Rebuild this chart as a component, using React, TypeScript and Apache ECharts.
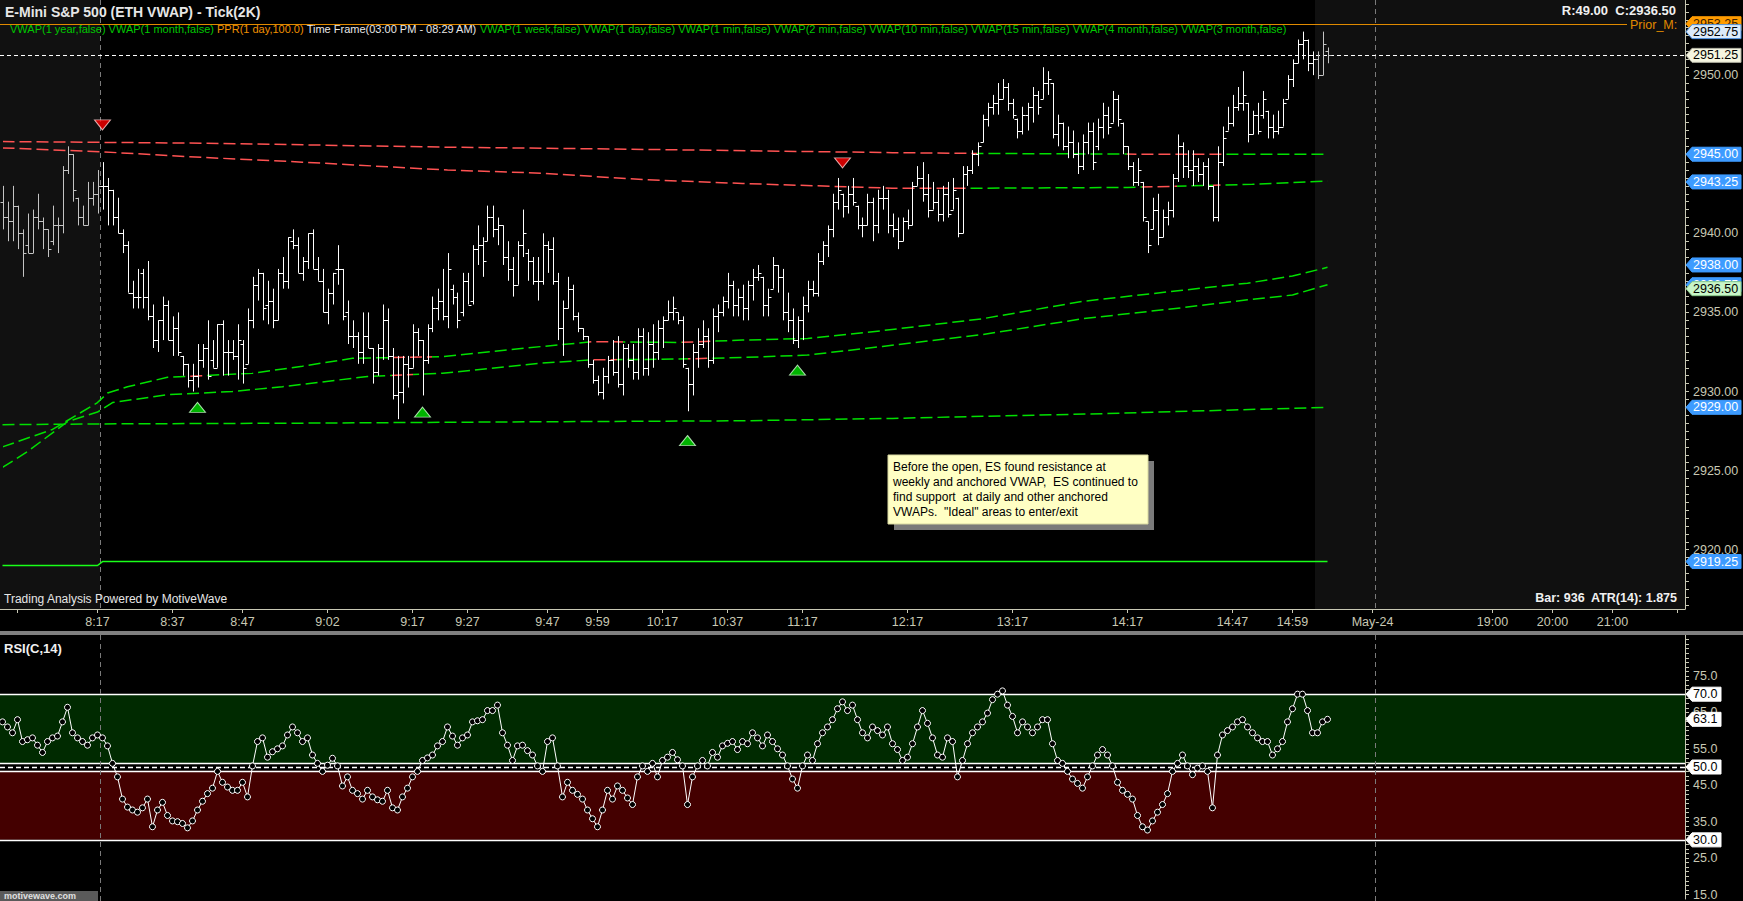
import React, { useEffect, useRef } from "react";
import * as echarts from "echarts";

const W = 1743;
const H = 901;
const FONT = '"Liberation Sans", Arial, sans-serif';
const PLOT_W = 1685;
const MAIN_H = 609;
const RSI_TOP = 635;
const RSI_H = 266;

// ---------- time axis ----------
const slotCount = 337;
const timeTickIndex = [19, 34, 48, 65, 82, 93, 109, 119, 132, 145, 160, 181, 202, 225, 246, 258, 274, 298, 310, 322];
const timeTickLabels = ["8:17", "8:37", "8:47", "9:02", "9:17", "9:27", "9:47", "9:59", "10:17", "10:37", "11:17", "12:17", "13:17", "14:17", "14:47", "14:59", "May-24", "19:00", "20:00", "21:00"];
const blankTickIndex = [3, 335];

// ---------- price bars [open, high, low, close] ----------
const bars: number[][] = [
  [2942, 2943, 2940.25, 2941], [2941, 2942, 2939.5, 2940.75], [2940.75, 2943, 2939.5, 2941.75], [2941.75, 2941.75, 2939, 2940],
  [2940, 2940.25, 2937.25, 2938.75], [2939.25, 2941.25, 2938.75, 2938.75], [2938.75, 2941.5, 2938.75, 2941], [2941, 2942.5, 2940.25, 2940.75],
  [2940.75, 2941, 2939, 2940.25], [2940.25, 2940.25, 2938.5, 2939], [2939.5, 2941.75, 2939.25, 2940.5], [2940.5, 2941, 2938.75, 2940.5],
  [2940.5, 2944.25, 2940, 2944], [2944, 2945.5, 2943.75, 2945], [2945, 2945, 2942, 2942.75], [2942.25, 2942.25, 2940.5, 2941],
  [2941, 2941.75, 2940.5, 2940.5], [2940.5, 2943.25, 2940.5, 2942.25], [2942.25, 2943.25, 2941.75, 2942.5], [2942.5, 2944, 2941.25, 2943],
  [2943, 2944.5, 2941.5, 2943], [2943, 2943.5, 2940.5, 2942.75], [2942.75, 2942.75, 2940.5, 2941], [2941, 2942.25, 2940, 2940],
  [2940, 2940.25, 2938.75, 2939.25], [2939.25, 2939.5, 2936.25, 2936.25], [2936.25, 2937, 2935.25, 2936], [2936, 2937.75, 2935.25, 2936],
  [2937.5, 2937.75, 2935.25, 2936], [2936, 2938.25, 2934.5, 2934.75], [2934.75, 2935.5, 2932.75, 2933.25], [2933.25, 2934.5, 2932.5, 2934.5],
  [2934.5, 2936, 2933.25, 2935.5], [2935.5, 2935.75, 2933.25, 2933.25], [2933.25, 2934.75, 2932.25, 2934], [2934, 2935, 2932.25, 2932.5],
  [2932.25, 2932.25, 2931, 2931.75], [2931.75, 2931.75, 2930.25, 2930.75], [2930.75, 2931.75, 2930, 2931], [2931, 2933, 2930.25, 2932],
  [2932, 2933, 2931.5, 2932.75], [2932.75, 2934.5, 2930.75, 2931], [2932, 2933.25, 2931.5, 2931.5], [2931.5, 2934.25, 2931.5, 2934.25],
  [2934.25, 2934.5, 2931, 2932.5], [2932.5, 2933.25, 2931, 2932.5], [2932.5, 2933.25, 2932, 2932.25], [2932.25, 2934.25, 2930.75, 2933.25],
  [2933, 2933.25, 2930.5, 2931.5], [2931.75, 2935.25, 2931.75, 2934.5], [2934.5, 2937.25, 2934, 2936.75], [2936.75, 2937.75, 2935.75, 2937.5],
  [2937.5, 2937.5, 2934.5, 2935.25], [2935.5, 2937, 2934.25, 2935.75], [2935.75, 2936.5, 2934, 2934.5], [2934.5, 2937.75, 2934.5, 2937.5],
  [2937.5, 2938.5, 2936.5, 2937], [2937, 2939.75, 2936.5, 2939.75], [2939.5, 2940.25, 2939, 2939.25], [2939.25, 2939.75, 2937.5, 2937.5],
  [2937.5, 2938.5, 2937, 2938.25], [2938.25, 2940, 2937.75, 2940], [2940, 2940.25, 2937.75, 2937.75], [2937.75, 2938.5, 2937, 2937],
  [2937, 2937.75, 2935, 2935], [2935, 2936.5, 2934.25, 2936.25], [2936.25, 2937.5, 2935.5, 2937.5], [2937.75, 2939.25, 2936.75, 2937.75],
  [2937.75, 2937.75, 2934.5, 2934.75], [2935, 2935.75, 2933, 2933.5], [2933.5, 2934.5, 2932.75, 2933.5], [2933.5, 2933.75, 2931.75, 2932.5],
  [2932.5, 2935, 2931.75, 2933.5], [2933.5, 2935, 2932.75, 2932.75], [2932.75, 2932.75, 2930.5, 2931.25], [2931.25, 2933, 2931, 2932.75],
  [2932.75, 2935.5, 2932, 2934.5], [2934.5, 2935.25, 2932, 2932.25], [2932.25, 2932.75, 2929.5, 2929.75], [2929.75, 2932.25, 2928.25, 2930],
  [2930, 2932.25, 2929.25, 2931.75], [2931.75, 2932.25, 2930.25, 2931.5], [2931.5, 2934.25, 2931.5, 2933.75], [2933.75, 2934, 2932.25, 2933.25],
  [2933.25, 2933.25, 2929.75, 2932], [2932, 2934.25, 2931.75, 2934], [2934, 2936, 2933.75, 2935.25], [2935.25, 2936.5, 2934.5, 2935.75],
  [2935.75, 2937.75, 2934.5, 2934.75], [2934.75, 2938.75, 2934, 2937.75], [2936.5, 2936.75, 2935.5, 2936], [2936, 2936.25, 2934, 2934.5],
  [2935, 2937.5, 2934.75, 2937], [2937, 2937.5, 2935.5, 2935.5], [2935.75, 2939.25, 2935.5, 2939], [2939, 2940.5, 2938, 2939.25],
  [2939.25, 2939.75, 2937.25, 2938.25], [2939.5, 2941.75, 2939.5, 2941], [2941, 2941.75, 2939.75, 2940.25], [2940.25, 2941, 2939.25, 2940.5],
  [2940.5, 2940.5, 2938, 2938.5], [2938.5, 2939.5, 2937, 2937.75], [2937.75, 2938.5, 2936, 2936.75], [2936.75, 2939.5, 2936.75, 2939.25],
  [2939.25, 2941.5, 2938.5, 2940], [2938.75, 2939, 2937, 2938.25], [2938.25, 2938.5, 2936.75, 2937], [2937, 2938.5, 2935.75, 2937],
  [2937, 2940, 2936.75, 2939.25], [2939.25, 2939.5, 2937.5, 2939], [2939, 2939.75, 2936.75, 2937], [2937, 2937.5, 2933.25, 2934],
  [2934, 2935.75, 2932.25, 2935.25], [2935.25, 2937.25, 2935.25, 2936.5], [2936.5, 2936.75, 2934.5, 2934.75], [2934.75, 2935, 2933.75, 2934],
  [2934, 2934, 2933.25, 2933.5], [2933.5, 2933.5, 2931.5, 2931.75], [2931.75, 2932, 2930.5, 2930.75], [2930.75, 2931, 2929.75, 2930],
  [2930, 2931.5, 2929.5, 2931], [2931, 2932.25, 2930.5, 2932], [2932, 2933.25, 2931, 2931.25], [2931.25, 2933.5, 2930.25, 2930.5],
  [2930.5, 2933, 2929.75, 2932.75], [2932.75, 2933, 2931.5, 2932], [2932, 2933, 2930.75, 2931.25], [2931.25, 2934, 2930.75, 2933.5],
  [2933.5, 2934, 2931, 2931.5], [2931.5, 2933.75, 2931, 2933], [2933, 2934.25, 2931.5, 2932.5], [2932.5, 2934.5, 2932, 2934],
  [2934, 2934.75, 2932.75, 2934.5], [2934.5, 2935.75, 2934.5, 2935], [2935, 2936, 2934.5, 2935.25], [2935, 2935, 2934.25, 2934.5],
  [2934.5, 2934.75, 2931.5, 2931.75], [2931.5, 2931.5, 2928.75, 2930.5], [2930.5, 2933, 2929.75, 2932.5], [2932.5, 2934, 2931.5, 2933],
  [2933, 2934.5, 2932.75, 2933.5], [2933.5, 2934, 2931.5, 2932], [2932, 2935.25, 2931.75, 2934.75], [2934.75, 2935.5, 2933.75, 2935],
  [2935, 2936, 2934.75, 2935.75], [2935.75, 2937.5, 2935.25, 2936.75], [2936.75, 2937, 2934.75, 2935.5], [2935.5, 2936.5, 2934.75, 2936],
  [2936, 2936.75, 2934.5, 2935.25], [2935.25, 2937, 2934.5, 2936.75], [2936.75, 2937.75, 2935.75, 2937.25], [2937.25, 2938, 2937, 2937.5],
  [2937.25, 2937.25, 2934.75, 2935.5], [2935.5, 2936.5, 2934.75, 2936], [2936.5, 2938.5, 2936.5, 2938], [2938, 2938, 2936.25, 2937.25],
  [2937.25, 2937.75, 2934.5, 2935], [2935, 2936.25, 2933.75, 2934.5], [2934.5, 2935.25, 2933, 2933.25], [2933.25, 2934.75, 2932.75, 2934.5],
  [2934.5, 2936, 2933.25, 2935.5], [2935.5, 2937, 2935, 2936.5], [2936.5, 2937, 2936, 2936.25], [2936.25, 2938.75, 2936, 2938.25],
  [2938.25, 2939.5, 2938, 2939.25], [2939.25, 2940.5, 2938.5, 2940.25], [2940.25, 2942.5, 2939.75, 2942], [2942, 2943.5, 2941.5, 2942.75],
  [2942.5, 2942.5, 2941, 2941.75], [2941.75, 2943, 2941.25, 2942.5], [2942.5, 2943.5, 2941.75, 2942], [2941.75, 2941.75, 2940.25, 2940.5],
  [2940.5, 2941, 2939.75, 2940.5], [2940.5, 2942.5, 2940.5, 2942], [2942, 2942.25, 2939.5, 2940.5], [2940.5, 2942.75, 2940, 2942.25],
  [2942.25, 2943, 2941.5, 2942.25], [2942.25, 2942.75, 2940, 2940.5], [2940.5, 2941.25, 2939.75, 2940.25], [2940.25, 2941, 2939, 2939.5],
  [2939.5, 2941, 2939.5, 2940.75], [2940.75, 2941.5, 2940.25, 2940.5], [2940.5, 2943.25, 2940.5, 2943], [2943, 2944.25, 2943, 2943.5],
  [2943.5, 2944.5, 2942, 2942.5], [2942.5, 2943.75, 2941, 2941.5], [2941.5, 2943.25, 2941.5, 2942], [2942, 2942.75, 2940.75, 2941.25],
  [2941.25, 2943, 2940.75, 2942.5], [2942.5, 2943.25, 2941, 2941.25], [2941.5, 2943.5, 2941.5, 2942.75], [2942.25, 2942.25, 2939.75, 2940],
  [2940, 2944.25, 2940, 2943.75], [2943.75, 2944.25, 2943, 2944], [2944, 2945.25, 2943.75, 2945], [2945, 2945.75, 2944.25, 2945.5],
  [2945.75, 2947.5, 2945.75, 2947.25], [2947.25, 2948.25, 2946.75, 2948], [2948, 2948.75, 2947.5, 2948.25], [2948.25, 2949.5, 2947.5, 2948.5],
  [2948.5, 2949.75, 2948.5, 2949.25], [2949.25, 2949.5, 2947.75, 2948.25], [2948.25, 2948.5, 2947.25, 2947.5], [2947.25, 2947.25, 2946, 2946.5],
  [2946.5, 2948, 2946.25, 2947.5], [2947.5, 2948.25, 2946.5, 2948], [2948, 2949.25, 2947, 2948.75], [2948.75, 2949, 2947.5, 2948],
  [2948.5, 2950.5, 2948.5, 2949.5], [2949.5, 2950.25, 2948.75, 2949.75], [2949.5, 2949.5, 2946, 2946.25], [2946.25, 2947.5, 2945.5, 2947],
  [2947, 2947, 2945.25, 2945.5], [2945.5, 2946.75, 2944.75, 2945.75], [2945.75, 2946.5, 2944.75, 2945], [2945, 2945.75, 2943.75, 2944.25],
  [2944.25, 2946.25, 2944, 2945.75], [2945.75, 2947, 2945, 2946.5], [2946.5, 2947, 2944, 2944.5], [2945.5, 2947.25, 2945.25, 2946.75],
  [2946.75, 2948.25, 2946, 2947.5], [2947.5, 2948, 2946.25, 2946.75], [2947, 2949, 2947, 2948.5], [2948.5, 2948.75, 2946.75, 2947.25],
  [2947, 2947, 2945, 2945.5], [2945.5, 2945.5, 2944, 2944.25], [2944.25, 2944.5, 2943, 2943.25], [2943.25, 2944.75, 2943, 2944],
  [2943.25, 2943.25, 2940.75, 2941], [2940.75, 2940.75, 2938.75, 2939.25], [2940.25, 2942.25, 2940.25, 2941.5], [2941.5, 2942.5, 2939.25, 2939.75],
  [2939.75, 2941.5, 2939.75, 2941], [2941, 2942, 2940.5, 2941.5], [2941.5, 2943.75, 2941, 2943.5], [2943.5, 2946.25, 2943.25, 2945.5],
  [2945.5, 2945.75, 2943.5, 2944.25], [2944.25, 2945.25, 2943.5, 2944], [2944, 2945.25, 2943, 2944.25], [2944.25, 2944.75, 2943.25, 2943.75],
  [2943.75, 2944.5, 2943, 2944.25], [2944.25, 2944.75, 2942.75, 2943], [2943, 2943, 2940.75, 2941], [2941, 2945.5, 2940.75, 2944.5],
  [2944.5, 2946.75, 2944.25, 2946], [2946.5, 2948, 2946.5, 2947], [2947, 2948.75, 2946.75, 2948], [2948, 2949.25, 2947.75, 2948.25],
  [2948.25, 2950.25, 2947.75, 2948.75], [2948.25, 2948.25, 2945.75, 2946.25], [2946.25, 2947.75, 2946.25, 2947.5], [2947.5, 2948.25, 2946.25, 2946.5],
  [2947.5, 2949, 2947.25, 2948.5], [2947.75, 2947.75, 2946, 2946.75], [2946.75, 2947.5, 2946, 2946.5], [2946.5, 2947.75, 2946.25, 2946.75],
  [2946.75, 2948.5, 2946.75, 2948.25], [2948.5, 2950, 2948.5, 2949.75], [2949.75, 2951, 2949.25, 2950.75], [2950.75, 2952.25, 2950.75, 2952],
  [2952, 2952.75, 2951, 2952.25], [2952.25, 2952.25, 2950.25, 2950.75], [2950.75, 2951.5, 2950, 2951], [2951, 2951.5, 2949.75, 2950],
  [2950, 2952.75, 2950, 2952], [2951.5, 2951.75, 2950.75, 2951.25],
];

// ---------- RSI(C,14) per bar ----------
const rsiValues = [
  62.4, 61, 59.4, 63, 57, 57.5, 58, 56, 54, 57,
  58, 58.5, 62.4, 66.4, 59.4, 58, 57, 56, 58, 58.8,
  58, 55.8, 51, 47.3, 41.2, 39, 38.2, 37.6, 38.8, 41.2,
  33.6, 38.2, 40.3, 36.7, 35.2, 35, 34.5, 33.3, 35.2, 38.2,
  40.6, 42.7, 44.2, 48.8, 45.8, 44.5, 43.6, 43.6, 45.8, 41.8,
  50.3, 57, 58, 52.7, 54.2, 55, 55.8, 58.8, 61, 59.4,
  57, 58, 53.3, 51, 48.8, 50.5, 52.4, 50.3, 44.8, 47.3,
  43.6, 42.7, 41.2, 43.6, 41.8, 41, 40.6, 43.6, 38.8, 38.2,
  41.8, 44.2, 47.3, 48.8, 51.8, 52.5, 53.3, 55.8, 57, 61,
  58.5, 56, 58, 58.8, 62.4, 62.7, 63, 65.5, 65.5, 67,
  59.4, 56, 51.8, 55.8, 56, 54.5, 53.3, 50.3, 48.8, 57,
  58, 50.3, 41.8, 45.8, 43.6, 42.5, 41.2, 38.2, 35.8, 33.6,
  38.2, 43.6, 41.2, 44.8, 43.6, 41.5, 39.7, 47.3, 50.3, 48.8,
  51, 47.3, 51.8, 52.7, 54, 52, 50.3, 39.7, 47.3, 50.3,
  51.8, 50.3, 54, 52.7, 55.8, 56.5, 57, 54.8, 57, 56.4,
  59.4, 58, 55.8, 58.8, 57, 55, 53.3, 50.3, 46.7, 44.2,
  50.3, 53.3, 51.8, 56.4, 59.4, 61, 63, 66, 67.9, 65.5,
  67, 63, 59.4, 58, 61, 60, 58.8, 61, 56.4, 54.8,
  51.8, 52.7, 56.4, 61, 65.5, 62, 58, 53.3, 52.7, 58,
  57, 47.3, 51.8, 56.4, 59.4, 61, 62.4, 64.8, 68.5, 70,
  70.9, 67, 63.9, 59.4, 62.4, 61, 59.4, 61, 63, 63,
  56.4, 51.8, 51, 48.8, 46.7, 45.5, 44.2, 47.3, 50.3, 53.3,
  54.8, 53.3, 50.3, 45.8, 43.6, 42.5, 41.2, 36.7, 33.6, 32.7,
  35.2, 37.6, 39.7, 42.7, 48.8, 51, 53.3, 50.3, 47.9, 49.7,
  50.3, 48.8, 38.8, 53.3, 58.8, 60, 61, 62.4, 63, 61,
  59.4, 58, 57, 57, 53.3, 55, 57, 62.4, 66, 70,
  70, 65.5, 59.4, 59.4, 62.4, 63.1,
];

// ---------- VWAP lines (bar index, price) ----------
const vwapAIdx = [0, 40, 88, 130, 178, 195, 230, 265];
const vwapAVal = [2945.8, 2945.7, 2945.45, 2945.3, 2945.1, 2945.05, 2945.0, 2945.0];
const vwapASegments: [number, number, string][] = [[0, 195, "r"], [195, 225, "g"], [225, 244, "r"], [244, 400, "g"]];

const vwapBIdx = [0, 20, 40, 60, 89, 108, 128, 148, 178, 193, 225, 250, 265];
const vwapBVal = [2945.4, 2945.15, 2944.8, 2944.5, 2944.0, 2943.8, 2943.4, 2943.15, 2942.85, 2942.85, 2942.9, 2943.1, 2943.3];
const vwapBSegments: [number, number, string][] = [[0, 193, "r"], [193, 228, "g"], [228, 235, "r"], [235, 242, "g"], [242, 244, "r"], [244, 400, "g"]];

const vwapCIdx = [0, 10, 19, 21, 25, 33, 50, 60, 70, 88, 108, 118, 135, 148, 161, 176, 196, 216, 236, 249, 258, 265];
const vwapCVal = [2926.5, 2927.6, 2929.3, 2929.9, 2930.3, 2930.9, 2931.15, 2931.6, 2932.1, 2932.2, 2932.85, 2933.15, 2933.1, 2933.25, 2933.35, 2933.85, 2934.6, 2935.7, 2936.4, 2936.85, 2937.3, 2937.85];
const vwapCSegments: [number, number, string][] = [[0, 37, "g"], [37, 40, "r"], [40, 78, "g"], [78, 86, "r"], [86, 117, "g"], [117, 124, "r"], [124, 136, "g"], [136, 142, "r"], [142, 400, "g"]];

const vwapDIdx = [0, 5, 13, 19, 22, 33, 46, 56, 73, 88, 108, 118, 135, 148, 161, 176, 196, 216, 236, 249, 258, 265];
const vwapDVal = [2925.2, 2926.2, 2928.1, 2928.7, 2929.3, 2929.8, 2930.0, 2930.3, 2930.95, 2931.15, 2931.8, 2932.0, 2932.05, 2932.15, 2932.3, 2932.85, 2933.6, 2934.6, 2935.3, 2935.8, 2936.1, 2936.75];
const vwapDSegments: [number, number, string][] = [[0, 78, "g"], [78, 82, "r"], [82, 117, "g"], [117, 123, "r"], [123, 137, "g"], [137, 141, "r"], [141, 400, "g"]];

const vwapEIdx = [0, 19, 60, 115, 148, 178, 220, 265];
const vwapEVal = [2927.9, 2927.95, 2928.0, 2928.1, 2928.15, 2928.3, 2928.6, 2929.0];

const vwapFIdx = [0, 19, 20, 265];
const vwapFVal = [2919.0, 2919.0, 2919.25, 2919.25];

// ---------- signals ----------
const signalUpIdx = [39, 84, 137, 159];
const signalUpVal = [2929.0, 2928.7, 2926.9, 2931.35];
const signalDownIdx = [20, 168];
const signalDownVal = [2946.85, 2944.45];

// ---------- levels & axis tags ----------
const priorMonthLevel = 2953.25;
const lastPrice = 2951.25;
const priceAxisLabels = [2920, 2925, 2930, 2935, 2940, 2945, 2950];
const rsiAxisLabels = [15, 25, 35, 45, 55, 65, 75];
const priceTagValues = [2953.25, 2952.75, 2951.25, 2945.0, 2943.25, 2938.0, 2936.75, 2936.5, 2929.0, 2919.25];
const priceTagKinds = ["orange", "sky", "cream", "blue", "blue", "blue", "blue", "mint", "blue", "blue"];
const rsiTagValues = [70, 63.1, 50, 30];
const rsiUpper = 70;
const rsiUpperMid = 51;
const rsiMid = 50;
const rsiLowerMid = 49;
const rsiLower = 30;

const legendItems: [string, string][] = [
  ["VWAP(1 year,false)", "g"], ["VWAP(1 month,false)", "g"], ["PPR(1 day,100.0)", "o"],
  ["Time Frame(03:00 PM - 08:29 AM)", "w"], ["VWAP(1 week,false)", "g"], ["VWAP(1 day,false)", "g"],
  ["VWAP(1 min,false)", "g"], ["VWAP(2 min,false)", "g"], ["VWAP(10 min,false)", "g"],
  ["VWAP(15 min,false)", "g"], ["VWAP(4 month,false)", "g"], ["VWAP(3 month,false)", "g"],
];
const noteLines = [
  "Before the open, ES found resistance at",
  "weekly and anchored VWAP,  ES continued to",
  "find support  at daily and other anchored",
  "VWAPs.  \"Ideal\" areas to enter/exit",
];

const RED = "#ff5252";
const GREEN = "#00e000";
const AXIS_COLOR = "#c8c8b4";

const categories: string[] = Array.from({ length: slotCount }, () => "");
blankTickIndex.forEach((i) => (categories[i] = " "));
timeTickIndex.forEach((i, k) => (categories[i] = timeTickLabels[k]));

function stepList(a: number, b: number, s: number) {
  const out: number[] = [];
  for (let v = a; v <= b + 1e-9; v += s) out.push(Math.round(v * 100) / 100);
  return out;
}

function pieces(segs: [number, number, string][]) {
  return segs.map(([a, b, c]) => ({ gte: a, lt: b, color: c === "r" ? RED : GREEN }));
}

function dashed(idx: number[], vals: number[], z = 3) {
  return {
    type: "line",
    xAxisIndex: 0,
    yAxisIndex: 0,
    data: idx.map((x, k) => [x, vals[k]]),
    symbol: "none",
    showSymbol: false,
    silent: true,
    z,
    lineStyle: { width: 1.5, type: [12, 5] },
  };
}

function buildOption(): any {
  const barSeries = {
    type: "custom",
    xAxisIndex: 0,
    yAxisIndex: 0,
    z: 4,
    silent: true,
    dimensions: ["i", "o", "h", "l", "c"],
    encode: { x: 0, y: [1, 2, 3, 4] },
    data: bars.map((b, i) => [i, b[0], b[1], b[2], b[3]]),
    renderItem: (params: any, api: any) => {
      const i = api.value(0);
      const o = api.coord([i, api.value(1)]);
      const h = api.coord([i, api.value(2)]);
      const l = api.coord([i, api.value(3)]);
      const c = api.coord([i, api.value(4)]);
      const x = Math.round(h[0]) + 0.5;
      const color = i < 20 || i > 262 ? "#c4c4c4" : "#ffffff";
      const style = { stroke: color, lineWidth: 1 };
      const oy = Math.round(o[1]) + 0.5;
      const cy = Math.round(c[1]) + 0.5;
      return {
        type: "group",
        children: [
          { type: "line", shape: { x1: x, y1: h[1], x2: x, y2: l[1] }, style },
          { type: "line", shape: { x1: x - 3, y1: oy, x2: x, y2: oy }, style },
          { type: "line", shape: { x1: x, y1: cy, x2: x + 3, y2: cy }, style },
        ],
      };
    },
  };

  return {
    animation: false,
    backgroundColor: "#000",
    textStyle: { fontFamily: FONT },
    grid: [
      { left: 0, top: 0, width: PLOT_W, height: MAIN_H },
      { left: 0, top: RSI_TOP, width: PLOT_W, height: RSI_H },
    ],
    xAxis: [
      {
        type: "category",
        gridIndex: 0,
        data: categories,
        boundaryGap: true,
        axisLine: { show: true, lineStyle: { color: AXIS_COLOR, width: 1 } },
        axisTick: {
          show: true,
          alignWithLabel: true,
          interval: (i: number, v: string) => v !== "",
          length: 4,
          lineStyle: { color: AXIS_COLOR },
        },
        axisLabel: {
          interval: (i: number, v: string) => v.trim() !== "",
          color: AXIS_COLOR,
          fontSize: 12.5,
          fontFamily: FONT,
          margin: 6,
        },
        splitLine: { show: false },
      },
      {
        type: "category",
        gridIndex: 1,
        data: categories,
        boundaryGap: true,
        axisLine: { show: false },
        axisTick: { show: false },
        axisLabel: { show: false },
        splitLine: { show: false },
      },
    ],
    yAxis: [
      {
        type: "value",
        gridIndex: 0,
        position: "right",
        min: 2916.25,
        max: 2954.75,
        axisLine: { show: true, lineStyle: { color: AXIS_COLOR } },
        axisTick: { show: true, customValues: stepList(2916.5, 2954.5, 0.5), length: 4, lineStyle: { color: AXIS_COLOR } },
        axisLabel: {
          customValues: priceAxisLabels,
          formatter: (v: number) => Number(v).toFixed(2),
          color: AXIS_COLOR,
          fontSize: 12.5,
          fontFamily: FONT,
          margin: 8,
        },
        splitLine: { show: false },
      },
      {
        type: "value",
        gridIndex: 1,
        position: "right",
        min: 13.75,
        max: 86.25,
        axisLine: { show: true, lineStyle: { color: AXIS_COLOR } },
        axisTick: { show: true, customValues: stepList(15, 85, 1.25), length: 4, lineStyle: { color: AXIS_COLOR } },
        axisLabel: {
          customValues: rsiAxisLabels,
          formatter: (v: number) => Number(v).toFixed(1),
          color: AXIS_COLOR,
          fontSize: 12.5,
          fontFamily: FONT,
          margin: 8,
        },
        splitLine: { show: false },
      },
    ],
    visualMap: [
      { type: "piecewise", show: false, seriesIndex: 1, dimension: 0, pieces: pieces(vwapASegments) },
      { type: "piecewise", show: false, seriesIndex: 2, dimension: 0, pieces: pieces(vwapBSegments) },
      { type: "piecewise", show: false, seriesIndex: 3, dimension: 0, pieces: pieces(vwapCSegments) },
      { type: "piecewise", show: false, seriesIndex: 4, dimension: 0, pieces: pieces(vwapDSegments) },
    ],
    series: [
      barSeries,
      dashed(vwapAIdx, vwapAVal),
      dashed(vwapBIdx, vwapBVal),
      dashed(vwapCIdx, vwapCVal),
      dashed(vwapDIdx, vwapDVal),
      { ...dashed(vwapEIdx, vwapEVal), lineStyle: { width: 1.5, type: [12, 5], color: GREEN } },
      {
        type: "line",
        xAxisIndex: 0,
        yAxisIndex: 0,
        data: vwapFIdx.map((x, k) => [x, vwapFVal[k]]),
        symbol: "none",
        silent: true,
        z: 3,
        lineStyle: { width: 1.5, color: "#19ff19" },
      },
      {
        type: "scatter",
        xAxisIndex: 0,
        yAxisIndex: 0,
        data: signalUpIdx.map((x, k) => [x, signalUpVal[k]]),
        symbol: "triangle",
        symbolSize: [16, 10],
        silent: true,
        z: 6,
        itemStyle: { color: "#00e000", borderColor: "#d0ffd0", borderWidth: 1 },
      },
      {
        type: "scatter",
        xAxisIndex: 0,
        yAxisIndex: 0,
        data: signalDownIdx.map((x, k) => [x, signalDownVal[k]]),
        symbol: "triangle",
        symbolRotate: 180,
        symbolSize: [16, 10],
        silent: true,
        z: 6,
        itemStyle: { color: "#ff0000", borderColor: "#ffd0d0", borderWidth: 1 },
      },
      {
        type: "line",
        xAxisIndex: 1,
        yAxisIndex: 1,
        data: rsiValues,
        symbol: "circle",
        symbolSize: 6,
        showAllSymbol: true,
        silent: true,
        z: 5,
        lineStyle: { color: "#ffffff", width: 1 },
        itemStyle: { color: "#000000", borderColor: "#ffffff", borderWidth: 1 },
      },
    ],
  };
}

const TAG_STYLES: Record<string, { fill: string; text: string; stroke: string }> = {
  orange: { fill: "#ff9c00", text: "#402000", stroke: "#ff9c00" },
  sky: { fill: "#dcebfa", text: "#000000", stroke: "#4a90e2" },
  cream: { fill: "#f5f5e0", text: "#000000", stroke: "#b0b0a0" },
  blue: { fill: "#3d9bff", text: "#ffffff", stroke: "#3d9bff" },
  mint: { fill: "#c8f5c8", text: "#000000", stroke: "#88c888" },
};

function buildGraphics(chart: any) {
  const px = (i: number) => chart.convertToPixel({ xAxisIndex: 0 }, i) as number;
  const py = (p: number) => chart.convertToPixel({ yAxisIndex: 0 }, p) as number;
  const ry = (v: number) => chart.convertToPixel({ yAxisIndex: 1 }, v) as number;
  const g: any[] = [];
  const txt = (x: number, y: number, text: string, font: string, fill: string, align = "left", z = 100) => ({
    type: "text",
    x,
    y,
    z,
    silent: true,
    style: { text, font, fill, textAlign: align, align, textVerticalAlign: "middle", verticalAlign: "middle" },
  });

  const sessionX = (px(19) + px(20)) / 2;
  const futureX = (px(262) + px(263)) / 2;
  const dayX = (px(274) + px(275)) / 2;

  // shaded regions of the price panel
  g.push({ type: "rect", z: -1, silent: true, shape: { x: 0, y: 0, width: sessionX, height: MAIN_H }, style: { fill: "#111111" } });
  g.push({ type: "rect", z: -1, silent: true, shape: { x: futureX, y: 0, width: PLOT_W - futureX, height: MAIN_H }, style: { fill: "#101010" } });

  // RSI bands
  g.push({ type: "rect", z: 0, silent: true, shape: { x: 0, y: ry(rsiUpper), width: PLOT_W, height: ry(rsiUpperMid) - ry(rsiUpper) }, style: { fill: "#002a00" } });
  g.push({ type: "rect", z: 0, silent: true, shape: { x: 0, y: ry(rsiLowerMid), width: PLOT_W, height: ry(rsiLower) - ry(rsiLowerMid) }, style: { fill: "#440000" } });
  [rsiUpper, rsiUpperMid, rsiLowerMid, rsiLower].forEach((v) => {
    const y = Math.round(ry(v)) + 0.5;
    g.push({ type: "line", z: 1, silent: true, shape: { x1: 0, y1: y, x2: PLOT_W, y2: y }, style: { stroke: "#ffffff", lineWidth: 1.5 } });
  });
  {
    const y = Math.round(ry(rsiMid)) + 0.5;
    g.push({ type: "line", z: 1, silent: true, shape: { x1: 0, y1: y, x2: PLOT_W, y2: y }, style: { stroke: "#ffffff", lineWidth: 1.5, lineDash: [5, 3] } });
  }

  // vertical session / day separators
  [sessionX, dayX].forEach((x) => {
    const xx = Math.round(x) + 0.5;
    g.push({ type: "line", z: 1, silent: true, shape: { x1: xx, y1: 0, x2: xx, y2: MAIN_H }, style: { stroke: "#7a7a7a", lineWidth: 1, lineDash: [5, 4] } });
    g.push({ type: "line", z: 2, silent: true, shape: { x1: xx, y1: RSI_TOP, x2: xx, y2: H }, style: { stroke: "#7a7a7a", lineWidth: 1, lineDash: [5, 4] } });
  });

  // last price dashed line and prior-month level
  {
    const y = Math.round(py(lastPrice)) + 0.5;
    g.push({ type: "line", z: 3, silent: true, shape: { x1: 0, y1: y, x2: PLOT_W, y2: y }, style: { stroke: "#ffffff", lineWidth: 1, lineDash: [4, 3] } });
    const yo = Math.round(py(priorMonthLevel)) + 0.5;
    g.push({ type: "line", z: 3, silent: true, shape: { x1: 0, y1: yo, x2: 1627, y2: yo }, style: { stroke: "#e08a00", lineWidth: 1.2 } });
    g.push(txt(1630, yo, "Prior_M:", `12.5px ${FONT}`, "#e08a00"));
  }

  // panel separator
  g.push({ type: "rect", z: 50, silent: true, shape: { x: 0, y: 631, width: W, height: 4 }, style: { fill: "#808080" } });

  // price tags
  const tagShape = (y: number, x0: number, x1: number) => [[x0, y], [x0 + 6, y - 7], [x1, y - 7], [x1, y + 7], [x0 + 6, y + 7]];
  priceTagValues.forEach((p, k) => {
    const s = TAG_STYLES[priceTagKinds[k]];
    const y = py(p);
    g.push({ type: "polygon", z: 100 + k * 2, silent: true, shape: { points: tagShape(y, PLOT_W + 1, 1741) }, style: { fill: s.fill, stroke: s.stroke, lineWidth: 1 } });
    g.push(txt(1693, y, p.toFixed(2), `12.5px ${FONT}`, s.text, "left", 101 + k * 2));
  });
  rsiTagValues.forEach((v, k) => {
    const y = ry(v);
    g.push({ type: "polygon", z: 100, silent: true, shape: { points: tagShape(y, PLOT_W + 1, 1721) }, style: { fill: "#ffffff", stroke: "#ffffff", lineWidth: 1 } });
    g.push(txt(1693, y, v.toFixed(1), `12.5px ${FONT}`, "#000000", "left", 101));
  });

  // titles and texts
  g.push(txt(5, 12, "E-Mini S&P 500 (ETH VWAP) - Tick(2K)", `bold 14px ${FONT}`, "#e6e6e6"));
  g.push(txt(1676, 10, "R:49.00  C:2936.50", `bold 13px ${FONT}`, "#f0f0f0", "right"));
  const richColors: Record<string, string> = { g: "#00c800", o: "#f09000", w: "#e8e8e8" };
  const rich: any = {};
  Object.keys(richColors).forEach((k) => {
    rich[k] = { fill: richColors[k], color: richColors[k], fontSize: 11, fontFamily: FONT };
  });
  g.push({
    type: "text",
    x: 10,
    y: 29,
    z: 100,
    silent: true,
    style: {
      text: legendItems.map(([t, c]) => `{${c}|${t}}`).join(" "),
      rich,
      font: `11px ${FONT}`,
      fill: "#00c800",
      textVerticalAlign: "middle",
      verticalAlign: "middle",
    },
  });
  g.push(txt(4, 599, "Trading Analysis Powered by MotiveWave", `12px ${FONT}`, "#e6e6e6"));
  g.push(txt(1677, 598, "Bar: 936  ATR(14): 1.875", `bold 12.5px ${FONT}`, "#f0f0f0", "right"));
  g.push(txt(4, 648, "RSI(C,14)", `bold 13px ${FONT}`, "#f0f0f0"));

  // annotation note
  g.push({ type: "rect", z: 90, silent: true, shape: { x: 894, y: 461, width: 260, height: 69 }, style: { fill: "#7a7a7a" } });
  g.push({ type: "rect", z: 91, silent: true, shape: { x: 888, y: 455, width: 260, height: 69 }, style: { fill: "#ffffc4", stroke: "#d8d8a0", lineWidth: 1 } });
  noteLines.forEach((line, k) => g.push(txt(893, 467 + k * 15, line, `12px ${FONT}`, "#000000", "left", 92)));

  // footer logo
  g.push({ type: "rect", z: 100, silent: true, shape: { x: 0, y: 891, width: 98, height: 10 }, style: { fill: "#5a5a5a" } });
  g.push(txt(4, 896, "motivewave.com", `bold 9px ${FONT}`, "#e0e0e0", "left", 101));

  return g;
}

export default function App() {
  const ref = useRef<HTMLDivElement>(null);
  useEffect(() => {
    document.body.style.margin = "0";
    document.body.style.background = "#000";
    const chart = echarts.init(ref.current!, null, { renderer: "svg", width: W, height: H });
    chart.setOption(buildOption());
    chart.setOption({ graphic: buildGraphics(chart) });
    return () => chart.dispose();
  }, []);
  return (
    <div
      ref={ref}
      style={{ position: "absolute", left: 0, top: 0, width: W, height: H, background: "#000" }}
    />
  );
}
